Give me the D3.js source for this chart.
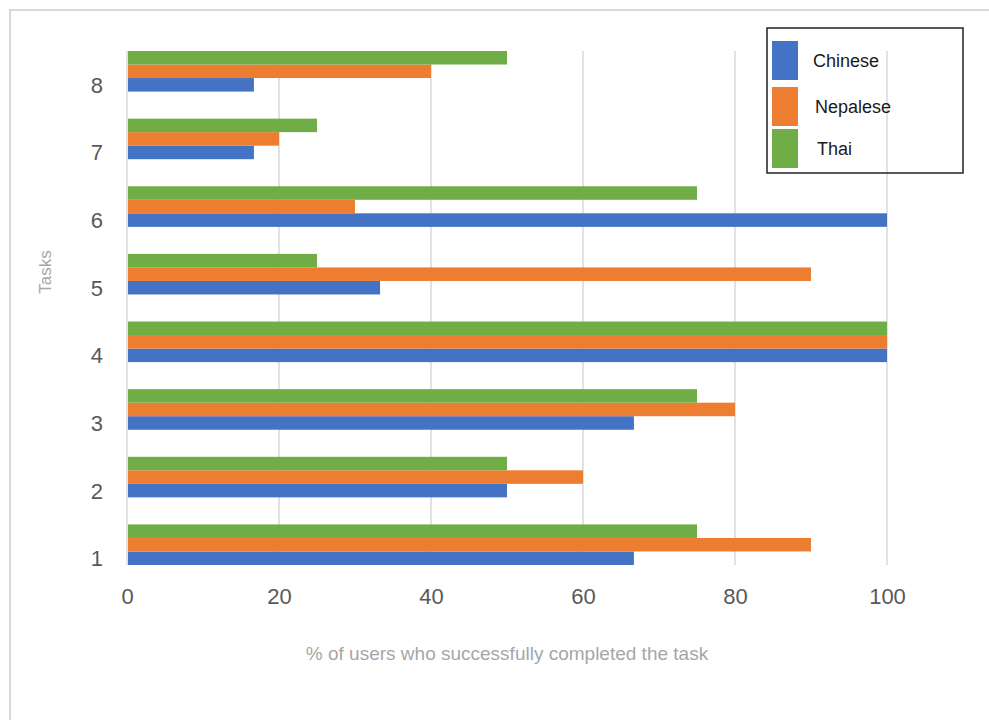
<!DOCTYPE html>
<html>
<head>
<meta charset="utf-8">
<script src="https://cdn.jsdelivr.net/npm/d3@7/dist/d3.min.js"></script>
<style>
  html, body { margin: 0; padding: 0; background: #fff; }
  svg { display: block; }
</style>
</head>
<body>
<script>
// Task completion rates by user group
const tasks = ["1", "2", "3", "4", "5", "6", "7", "8"];
const chinese  = [66.7, 50, 66.7, 100, 33.3, 100, 16.7, 16.7];
const nepalese = [90, 60, 80, 100, 90, 30, 20, 40];
const thai     = [75, 50, 75, 100, 25, 75, 25, 50];
const seriesNames = ["Chinese", "Nepalese", "Thai"];
const seriesColors = ["#4472c4", "#ed7d31", "#70ad47"];
const xTicks = [0, 20, 40, 60, 80, 100];
const xTitle = "% of users who successfully completed the task";
const yTitle = "Tasks";

const seriesValues = [chinese, nepalese, thai];

const W = 989, H = 720;
const svg = d3.select("body").append("svg").attr("width", W).attr("height", H);
const font = "'Liberation Sans', Arial, sans-serif";

// outer chart frame
svg.append("rect")
  .attr("x", 10).attr("y", 10).attr("width", W + 20).attr("height", H + 20)
  .attr("fill", "none").attr("stroke", "#d9d9d9").attr("stroke-width", 2);

const plot = { left: 127, right: 887, top: 51, bottom: 565 };

const x = d3.scaleLinear().domain([0, 100]).range([plot.left, plot.right]);
const y = d3.scaleBand().domain(tasks.slice().reverse())
  .range([plot.top, plot.bottom]).paddingInner(0.4).paddingOuter(0);
// within a group: Thai on top, then Nepalese, then Chinese
const ySub = d3.scaleBand().domain(["Thai", "Nepalese", "Chinese"])
  .range([0, y.bandwidth()]);

// vertical gridlines
svg.append("g").selectAll("line").data(xTicks).join("line")
  .attr("x1", d => x(d)).attr("x2", d => x(d))
  .attr("y1", plot.top).attr("y2", plot.bottom)
  .attr("stroke", "#d9d9d9").attr("stroke-width", 1.5);

// bars
const groups = svg.append("g").selectAll("g").data(tasks).join("g")
  .attr("transform", d => `translate(0,${y(d)})`);

groups.selectAll("rect")
  .data((t, i) => seriesNames.map((s, k) => ({ s, v: seriesValues[k][i], c: seriesColors[k] })))
  .join("rect")
  .attr("x", x(0) + 1)
  .attr("y", d => ySub(d.s))
  .attr("width", d => x(d.v) - x(0) - 1)
  .attr("height", ySub.bandwidth())
  .attr("fill", d => d.c);

// category labels, aligned with the lowest bar of each group
svg.append("g").selectAll("text").data(tasks).join("text")
  .attr("x", 103)
  .attr("y", d => y(d) + ySub("Chinese") + ySub.bandwidth() / 2)
  .attr("dy", "0.36em")
  .attr("text-anchor", "end")
  .attr("font-family", font).attr("font-size", 22)
  .attr("fill", "#595959")
  .text(d => d);

// x axis tick labels
const xAxis = d3.axisBottom(x).tickValues(xTicks).tickSize(0).tickPadding(0);
const xg = svg.append("g").attr("transform", `translate(0,588)`).call(xAxis);
xg.select(".domain").remove();
xg.selectAll("text")
  .attr("font-family", font).attr("font-size", 22)
  .attr("fill", "#595959").attr("dy", "0.72em");

// axis titles
svg.append("text")
  .attr("x", 507).attr("y", 660)
  .attr("text-anchor", "middle")
  .attr("font-family", font).attr("font-size", 19)
  .attr("fill", "#a6a6a6")
  .text(xTitle);

svg.append("text")
  .attr("transform", "translate(51,272) rotate(-90)")
  .attr("text-anchor", "middle")
  .attr("font-family", font).attr("font-size", 17)
  .attr("fill", "#a6a6a6")
  .text(yTitle);

// legend
const legend = svg.append("g");
legend.append("rect")
  .attr("x", 767).attr("y", 28).attr("width", 196).attr("height", 145)
  .attr("fill", "none").attr("stroke", "#222").attr("stroke-width", 1.5);
const legendRows = [
  { name: "Chinese", color: seriesColors[0], sy: 41, tx: 813 },
  { name: "Nepalese", color: seriesColors[1], sy: 87, tx: 815 },
  { name: "Thai", color: seriesColors[2], sy: 129, tx: 817 }
];
legend.selectAll("rect.sw").data(legendRows).join("rect")
  .attr("class", "sw")
  .attr("x", 772).attr("y", d => d.sy).attr("width", 26).attr("height", 39)
  .attr("fill", d => d.color);
legend.selectAll("text").data(legendRows).join("text")
  .attr("x", d => d.tx).attr("y", d => d.sy + 20)
  .attr("dy", "0.36em")
  .attr("font-family", font).attr("font-size", 18)
  .attr("fill", "#1a1a1a")
  .text(d => d.name);
</script>
</body>
</html>
